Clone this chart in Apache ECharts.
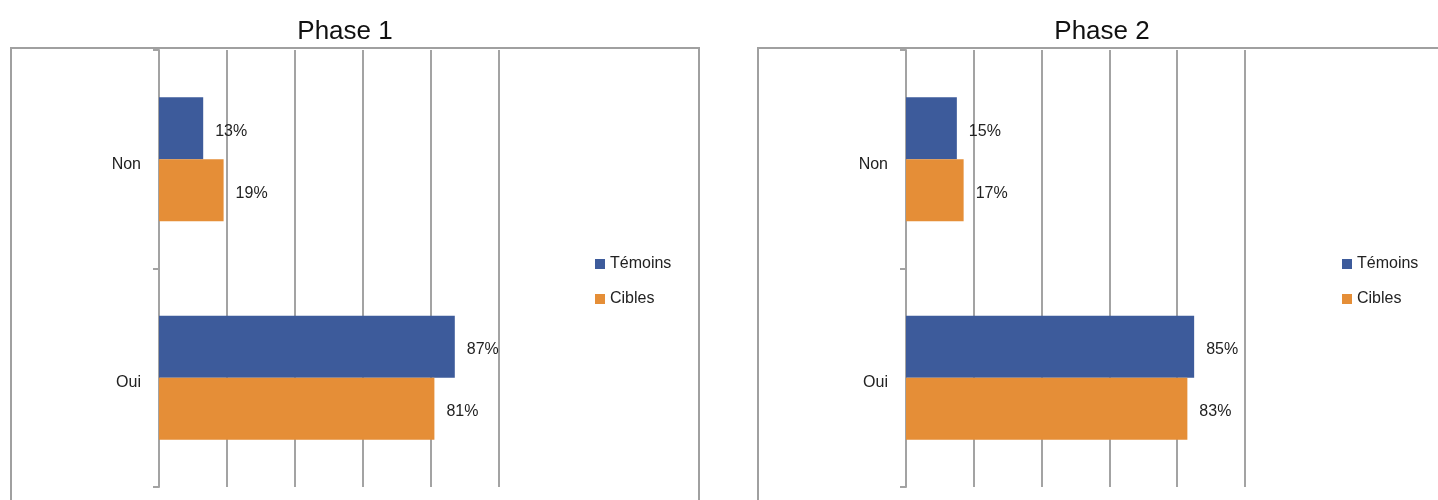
<!DOCTYPE html>
<html>
<head>
<meta charset="utf-8">
<script src="https://cdn.jsdelivr.net/npm/echarts@6/dist/echarts.min.js"></script>
<style>
  html, body { margin: 0; padding: 0; background: #fff; }
  #main { width: 1438px; height: 500px; }
</style>
</head>
<body>
<div id="main"></div>
<script>
var categories = ['Non', 'Oui'];
var seriesNames = ['Témoins', 'Cibles'];
var phase1Temoins = [13, 87];
var phase1Cibles = [19, 81];
var phase2Temoins = [15, 85];
var phase2Cibles = [17, 83];
var xTicks = [0, 20, 40, 60, 80, 100];

var myChart = echarts.init(document.getElementById('main'));
var font = 'Liberation Sans';
var gridColor = '#a3a3a3';
var blue = '#3d5b9b';
var orange = '#e58e37';

function xAxisFor(gi) {
    return {
        type: 'value',
        gridIndex: gi,
        min: xTicks[0],
        max: xTicks[xTicks.length - 1],
        interval: xTicks[1] - xTicks[0],
        axisLine: {show: false},
        axisTick: {show: false},
        axisLabel: {show: false},
        splitLine: {lineStyle: {color: gridColor, width: 2}}
    };
}
function yAxisFor(gi) {
    return {
        type: 'category',
        gridIndex: gi,
        data: categories,
        inverse: true,
        axisLine: {show: true, onZero: false, lineStyle: {color: gridColor, width: 2}},
        axisTick: {show: true, inside: false, length: 6, lineStyle: {color: gridColor, width: 2}},
        axisLabel: {margin: 18, color: '#222', fontFamily: font, fontSize: 16,
                    verticalAlign: 'top', lineHeight: 10},
        splitLine: {show: false}
    };
}
function barFor(name, data, gi, color) {
    return {
        name: name,
        type: 'bar',
        xAxisIndex: gi,
        yAxisIndex: gi,
        data: data,
        barWidth: 62,
        barGap: '0%',
        z: 3,
        itemStyle: {color: color},
        label: {
            show: true,
            position: 'right',
            distance: 12,
            offset: [0, 3],
            formatter: '{c}%',
            color: '#222',
            fontFamily: font,
            fontSize: 16
        }
    };
}
function legendFor(left) {
    return {
        orient: 'vertical',
        left: left,
        top: 256,
        padding: 0,
        itemWidth: 10,
        itemHeight: 10,
        itemGap: 19,
        icon: 'rect',
        data: seriesNames,
        textStyle: {color: '#222', fontFamily: font, fontSize: 16}
    };
}

var option = {
    animation: false,
    title: [
        {text: 'Phase 1', left: 340, top: 14, textAlign: 'center',
         textStyle: {fontFamily: font, fontSize: 26, fontWeight: 'normal', color: '#111'}},
        {text: 'Phase 2', left: 1097, top: 14, textAlign: 'center',
         textStyle: {fontFamily: font, fontSize: 26, fontWeight: 'normal', color: '#111'}}
    ],
    legend: [legendFor(595), legendFor(1342)],
    graphic: [
        {type: 'rect', shape: {x: 11, y: 48, width: 688, height: 500},
         style: {fill: 'none', stroke: '#a0a0a0', lineWidth: 2}, silent: true},
        {type: 'rect', shape: {x: 758, y: 48, width: 800, height: 500},
         style: {fill: 'none', stroke: '#a0a0a0', lineWidth: 2}, silent: true}
    ],
    grid: [
        {left: 159, top: 50, width: 340, height: 437},
        {left: 906, top: 50, width: 339, height: 437}
    ],
    xAxis: [xAxisFor(0), xAxisFor(1)],
    yAxis: [yAxisFor(0), yAxisFor(1)],
    series: [
        barFor(seriesNames[0], phase1Temoins, 0, blue),
        barFor(seriesNames[1], phase1Cibles, 0, orange),
        barFor(seriesNames[0], phase2Temoins, 1, blue),
        barFor(seriesNames[1], phase2Cibles, 1, orange)
    ]
};
myChart.setOption(option);
</script>
</body>
</html>
